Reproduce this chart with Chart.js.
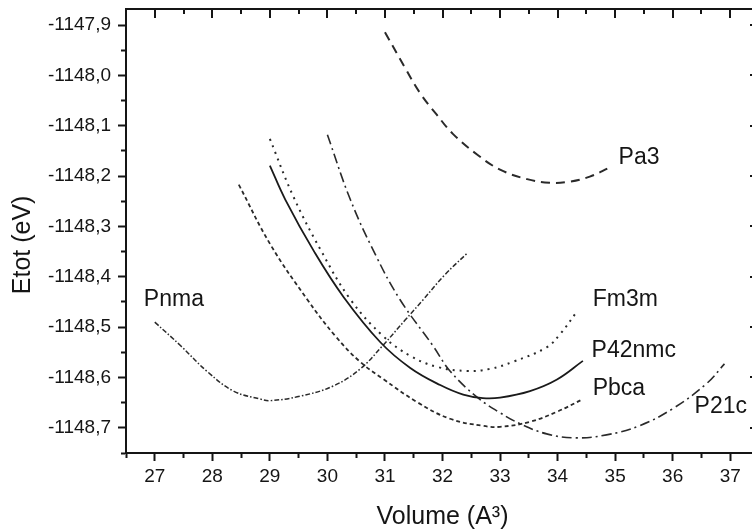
<!DOCTYPE html>
<html><head><meta charset="utf-8">
<script src="https://cdn.jsdelivr.net/npm/chart.js@4.4.1/dist/chart.umd.min.js"></script>
<style>
html,body{margin:0;padding:0;overflow:hidden;background:#fff;}
#wrap{width:762px;height:532px;}
</style></head><body>
<div id="wrap"><canvas id="c" width="762" height="532"></canvas></div>
<script>
// ---- data ----
const structures = ['Pa3', 'Fm3m', 'P42nmc', 'Pbca', 'P21c', 'Pnma'];

const pa3Volume = [31.0, 31.35, 31.61, 31.9, 32.18, 32.6, 33.0, 33.47, 33.86, 34.21, 34.56, 34.9];
const pa3Energy = [-1147.914, -1147.985, -1148.035, -1148.078, -1148.116, -1148.157, -1148.187, -1148.206, -1148.213, -1148.211, -1148.201, -1148.183];

const fm3mVolume = [29.0, 29.41, 29.88, 30.4, 30.97, 31.44, 31.91, 32.43, 32.82, 33.22, 33.81, 34.05, 34.33];
const fm3mEnergy = [-1148.126, -1148.241, -1148.346, -1148.445, -1148.518, -1148.557, -1148.579, -1148.587, -1148.583, -1148.569, -1148.540, -1148.513, -1148.470];

const p42nmcVolume = [29.0, 29.27, 29.78, 30.28, 30.92, 31.44, 31.96, 32.36, 32.7, 33.0, 33.52, 33.99, 34.44];
const p42nmcEnergy = [-1148.179, -1148.247, -1148.352, -1148.440, -1148.530, -1148.581, -1148.615, -1148.634, -1148.641, -1148.640, -1148.627, -1148.604, -1148.567];

const pbcaVolume = [28.46, 29.01, 29.65, 30.14, 30.57, 30.97, 31.56, 32.13, 32.7, 33.0, 33.52, 33.99, 34.44];
const pbcaEnergy = [-1148.217, -1148.336, -1148.445, -1148.518, -1148.569, -1148.603, -1148.649, -1148.682, -1148.696, -1148.698, -1148.688, -1148.668, -1148.643];

const p21cVolume = [30.0, 30.4, 30.83, 31.26, 31.84, 32.13, 32.6, 33.0, 33.35, 33.81, 34.33, 34.85, 35.42, 36.0, 36.58, 36.9];
const p21cEnergy = [-1148.118, -1148.247, -1148.355, -1148.445, -1148.538, -1148.587, -1148.639, -1148.670, -1148.692, -1148.712, -1148.720, -1148.714, -1148.696, -1148.662, -1148.613, -1148.573];

const pnmaVolume = [27.0, 27.45, 27.92, 28.37, 28.84, 29.01, 29.53, 30.1, 30.57, 30.95, 31.35, 31.66, 32.04, 32.44];
const pnmaEnergy = [-1148.49, -1148.537, -1148.589, -1148.627, -1148.643, -1148.646, -1148.637, -1148.617, -1148.583, -1148.538, -1148.486, -1148.446, -1148.396, -1148.352];

const xMajorTicks = [27, 28, 29, 30, 31, 32, 33, 34, 35, 36, 37];
const xTickLabels = ['27', '28', '29', '30', '31', '32', '33', '34', '35', '36', '37'];
const xMinorTicks = [26.5, 27.5, 28.5, 29.5, 30.5, 31.5, 32.5, 33.5, 34.5, 35.5, 36.5, 37.5];

const yMajorTicks = [-1148.7, -1148.6, -1148.5, -1148.4, -1148.3, -1148.2, -1148.1, -1148.0, -1147.9];
const yTickLabels = ['-1148,7', '-1148,6', '-1148,5', '-1148,4', '-1148,3', '-1148,2', '-1148,1', '-1148,0', '-1147,9'];
const yMinorTicks = [-1148.75, -1148.65, -1148.55, -1148.45, -1148.35, -1148.25, -1148.15, -1148.05, -1147.95];

const xMin = 26.5, xMax = 37.5;
const yMin = -1148.75, yMax = -1147.868;

// ---- chart ----
const FONT = "'Liberation Sans', Arial, Helvetica, sans-serif";
const INK = '#151515';
const near = (a, b) => Math.abs(a - b) < 1e-6;
const isMajor = (v, arr) => arr.some(m => near(m, v));
const pts = (xs, ys) => xs.map((v, i) => ({x: v, y: ys[i]}));

const seriesData = {
  'Pa3': pts(pa3Volume, pa3Energy),
  'Fm3m': pts(fm3mVolume, fm3mEnergy),
  'P42nmc': pts(p42nmcVolume, p42nmcEnergy),
  'Pbca': pts(pbcaVolume, pbcaEnergy),
  'P21c': pts(p21cVolume, p21cEnergy),
  'Pnma': pts(pnmaVolume, pnmaEnergy)
};
const seriesStyle = {
  'Pa3':    {borderDash: [9, 6], borderWidth: 2, borderColor: '#2a2a2a'},
  'Fm3m':   {borderDash: [2, 5], borderWidth: 2, borderColor: '#2a2a2a'},
  'P42nmc': {borderDash: [], borderWidth: 1.8, borderColor: '#1a1a1a'},
  'Pbca':   {borderDash: [4, 3], borderWidth: 1.8, borderColor: '#2a2a2a'},
  'P21c':   {borderDash: [10, 4, 2, 4], borderWidth: 1.6, borderColor: '#2a2a2a'},
  'Pnma':   {borderDash: [5, 2, 1.5, 2], borderWidth: 1.5, borderColor: '#2a2a2a'}
};
const labelAnchors = {
  'Pa3': {x: 35.06, y: -1148.163},
  'Fm3m': {x: 34.61, y: -1148.445},
  'P42nmc': {x: 34.59, y: -1148.546},
  'Pbca': {x: 34.61, y: -1148.623},
  'P21c': {x: 36.38, y: -1148.658},
  'Pnma': {x: 26.81, y: -1148.445}
};

const datasets = structures.map(name => Object.assign({
  label: name,
  data: seriesData[name],
  fill: false,
  pointRadius: 0,
  tension: 0.4,
  borderCapStyle: 'butt'
}, seriesStyle[name]));

const mirrorTicks = {
  id: 'mirrorTicks',
  afterDatasetsDraw(chart) {
    const {ctx, chartArea} = chart;
    const x = chart.scales.x, y = chart.scales.y;
    ctx.save();
    ctx.strokeStyle = INK;
    ctx.lineWidth = 2;
    x.ticks.forEach(t => {
      const px = Math.round(x.getPixelForValue(t.value));
      const len = isMajor(t.value, xMajorTicks) ? 9 : 5;
      ctx.beginPath(); ctx.moveTo(px, chartArea.top); ctx.lineTo(px, chartArea.top + len); ctx.stroke();
    });
    y.ticks.forEach(t => {
      const py = Math.round(y.getPixelForValue(t.value));
      const len = isMajor(t.value, yMajorTicks) ? 9 : 5;
      ctx.beginPath(); ctx.moveTo(chartArea.right, py); ctx.lineTo(chartArea.right - len, py); ctx.stroke();
    });
    ctx.restore();
  }
};

const curveLabels = {
  id: 'curveLabels',
  afterDatasetsDraw(chart) {
    const {ctx} = chart;
    const x = chart.scales.x, y = chart.scales.y;
    ctx.save();
    ctx.font = '23px ' + FONT;
    ctx.fillStyle = INK;
    ctx.textAlign = 'left';
    ctx.textBaseline = 'middle';
    structures.forEach(name => {
      const a = labelAnchors[name];
      ctx.fillText(name, x.getPixelForValue(a.x), y.getPixelForValue(a.y));
    });
    ctx.restore();
  }
};

new Chart(document.getElementById('c'), {
  type: 'line',
  data: {datasets},
  plugins: [mirrorTicks, curveLabels],
  options: {
    responsive: false,
    animation: false,
    events: [],
    layout: {padding: 0},
    plugins: {legend: {display: false}, tooltip: {enabled: false}},
    scales: {
      x: {
        type: 'linear', position: 'bottom', min: xMin, max: xMax,
        afterBuildTicks: s => { s.ticks = xMajorTicks.concat(xMinorTicks).sort((a, b) => a - b).map(v => ({value: v})); },
        afterFit: s => { s.height = 79; s.paddingLeft = 0; s.paddingRight = 0; },
        ticks: {
          autoSkip: false, maxRotation: 0, padding: 4, color: INK,
          font: {family: FONT, size: 19},
          callback: v => { const i = xMajorTicks.findIndex(m => near(m, v)); return i >= 0 ? xTickLabels[i] : ''; }
        },
        grid: {
          drawOnChartArea: false, drawTicks: true, tickLength: 8, tickWidth: 2, tickColor: INK,
          tickBorderDash: c => (c.tick && !isMajor(c.tick.value, xMajorTicks)) ? [4, 100] : []
        },
        border: {display: true, color: INK, width: 2},
        title: {display: true, text: 'Volume (A³)', color: INK, font: {family: FONT, size: 25}, padding: {top: 0, bottom: 0}}
      },
      x2: {
        type: 'linear', position: 'top', min: xMin, max: xMax,
        afterFit: s => { s.height = 9; s.paddingLeft = 0; s.paddingRight = 0; },
        ticks: {display: false},
        grid: {drawOnChartArea: false, drawTicks: false},
        border: {display: true, color: INK, width: 2}
      },
      y: {
        type: 'linear', position: 'left', min: yMin, max: yMax,
        afterBuildTicks: s => { s.ticks = yMinorTicks.concat(yMajorTicks).sort((a, b) => a - b).map(v => ({value: v})); },
        afterFit: s => { s.width = 126; s.paddingTop = 0; s.paddingBottom = 0; },
        ticks: {
          autoSkip: false, padding: 7, color: INK,
          font: {family: FONT, size: 19},
          callback: v => { const i = yMajorTicks.findIndex(m => near(m, v)); return i >= 0 ? yTickLabels[i] : ''; }
        },
        grid: {
          drawOnChartArea: false, drawTicks: true, tickLength: 8, tickWidth: 2, tickColor: INK,
          tickBorderDash: c => (c.tick && !isMajor(c.tick.value, yMajorTicks)) ? [0, 3, 4, 100] : []
        },
        border: {display: true, color: INK, width: 2},
        title: {display: true, text: 'Etot (eV)    ', color: INK, font: {family: FONT, size: 25}, padding: {top: 8, bottom: 0}}
      },
      y2: {
        type: 'linear', position: 'right', min: yMin, max: yMax,
        afterFit: s => { s.width = 3; s.paddingTop = 0; s.paddingBottom = 0; },
        ticks: {display: false},
        grid: {drawOnChartArea: false, drawTicks: false},
        border: {display: true, color: INK, width: 2}
      }
    }
  }
});
</script>
</body></html>
